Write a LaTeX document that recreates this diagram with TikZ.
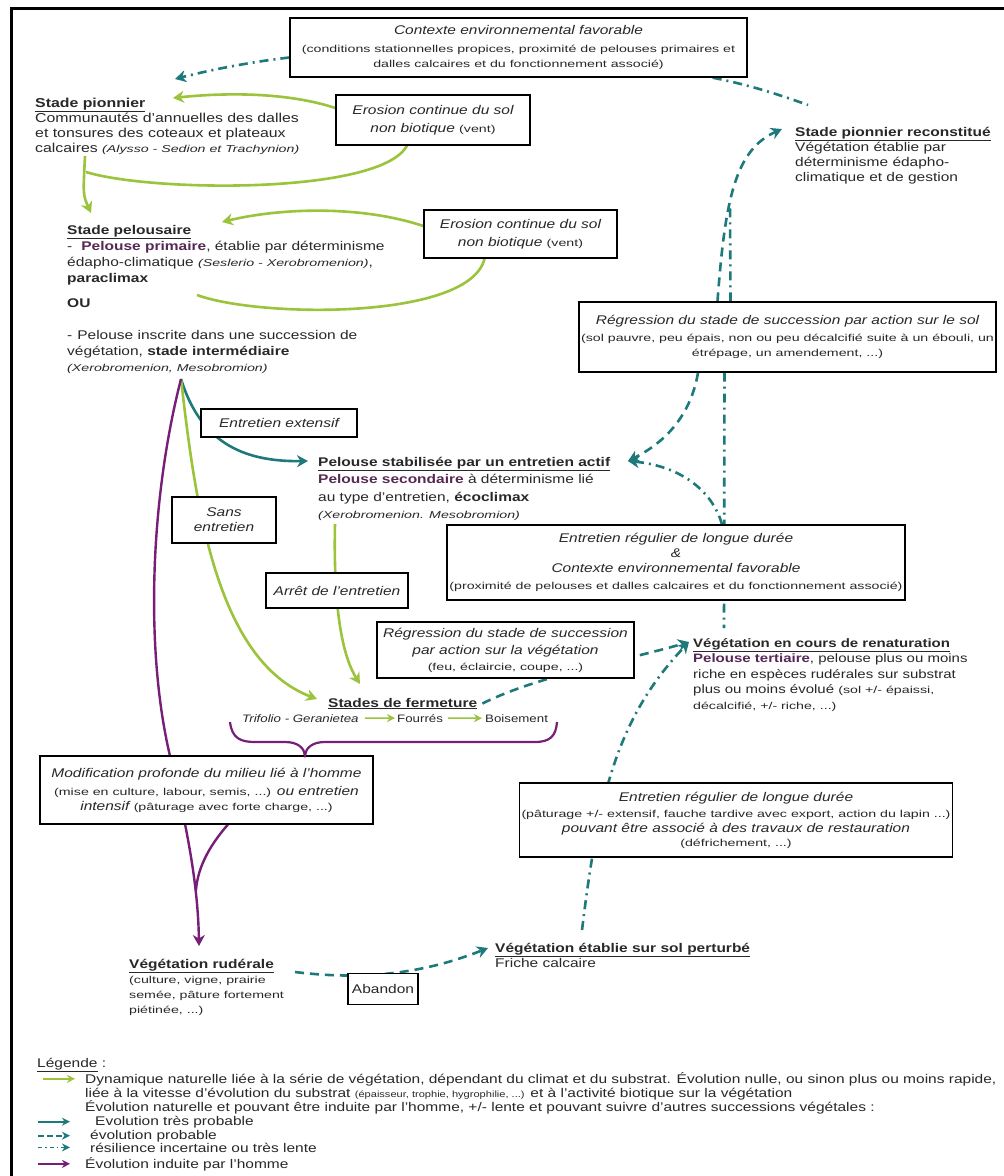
\documentclass[tikz,border=0pt]{standalone}
\usepackage{fontspec}
\setmainfont{Liberation Sans}[FakeStretch=1.23]
\newfontfamily\smallf{Liberation Sans}[FakeStretch=1.42]
\usetikzlibrary{arrows.meta}
\definecolor{grn}{RGB}{155,195,60}
\definecolor{tl}{RGB}{30,122,122}
\definecolor{pur}{RGB}{118,30,120}
\definecolor{txt}{RGB}{40,40,40}
\definecolor{plum}{RGB}{85,40,85}
\newcommand\sm[1]{{\smallf\upshape\fontsize{10}{12}\selectfont #1}}
\newcommand\smi[1]{{\smallf\itshape\fontsize{10}{12}\selectfont #1}}
\newcommand\fl{\rule{0pt}{10pt}}
\newcommand\ttl[1]{\underline{\textbf{#1}}}
\pgfdeclarelayer{bg}
\pgfsetlayers{bg,main}
\tikzset{
  >={Stealth[length=11pt,width=12pt,inset=3.5pt]},
  box/.style={draw=black, line width=1.4pt, fill=white, align=center, inner sep=2pt, text=txt, font=\itshape\fontsize{12.6}{15}\selectfont},
  free/.style={align=left, anchor=north west, inner sep=0pt, text=txt, font=\fontsize{12.6}{15}\selectfont},
  lone/.style={anchor=base west, inner sep=0pt, text=txt, font=\fontsize{12.6}{15}\selectfont},
  legt/.style={anchor=base west, inner sep=0pt, text=txt, font=\fontsize{12.6}{14}\selectfont},
  gline/.style={draw=grn, line width=2.6pt},
  tline/.style={draw=tl, line width=2.6pt},
  tdash/.style={draw=tl, line width=2.6pt, dash pattern=on 9pt off 6pt},
  tdd/.style={draw=tl, line width=2.6pt, dash pattern=on 9pt off 5pt on 2pt off 5pt},
  pline/.style={draw=pur, line width=2.4pt},
  small arrow/.style={line width=1.8pt, -{Stealth[length=8pt,width=8pt,inset=2.5pt]}},
}
\begin{document}
\begin{tikzpicture}[x=1pt,y=-1pt]
\useasboundingbox (0,0) rectangle (1004,1176);
\begin{pgfonlayer}{bg}
\fill[white] (0,0) rectangle (1004,1176);
\end{pgfonlayer}
\draw[line width=3pt] (1004,8) -- (11,8) -- (11,1176);

% ---------- boxes ----------
\node[box, minimum width=457pt, minimum height=59pt] (ctx) at (518.5,47.5)
  {Contexte environnemental favorable\\[3pt]
   \sm{(conditions stationnelles propices, proximité de pelouses primaires et}\\
   \sm{dalles calcaires et du fonctionnement associé)}};
\node[box, minimum width=194pt, minimum height=50pt] (ero1) at (433,120)
  {Erosion continue du sol\\[3pt] non biotique \sm{(vent)}};
\node[box, minimum width=193pt, minimum height=48pt] (ero2) at (520.5,234)
  {Erosion continue du sol\\[3pt] non biotique \sm{(vent)}};
\node[box, minimum width=409pt, minimum height=70pt] (regsol) at (787.5,337)
  {Régression du stade de succession par action sur le sol\\[2pt]
   \sm{(sol pauvre, peu épais, non ou peu décalcifié suite à un ébouli, un}\\
   \sm{étrépage, un amendement, ...)}};
\node[box, minimum width=156pt, minimum height=28pt] (entext) at (279,423) {Entretien extensif};
\node[box, minimum width=104pt, minimum height=46pt] (sansent) at (224,520) {Sans\\ entretien};
\node[box, minimum width=458pt, minimum height=75pt] (entreg) at (676,562.5)
  {Entretien régulier de longue durée\\ \&\\ Contexte environnemental favorable\\[2pt]
   \sm{(proximité de pelouses et dalles calcaires et du fonctionnement associé)}};
\node[box, minimum width=142pt, minimum height=35pt] (arret) at (337,590.5) {Arrêt de l'entretien};
\node[box, minimum width=257pt, minimum height=56pt] (regveg) at (505.5,650)
  {Régression du stade de succession\\[2pt] par action sur la végétation\\[1pt]
   \sm{(feu, éclaircie, coupe, ...)}};
\node[box, minimum width=333pt, minimum height=68pt] (modif) at (206.5,790)
  {Modification profonde du milieu lié à l'homme\\[3pt]
   \sm{(mise en culture, labour, semis, ...)} ou entretien\\
   intensif \sm{(pâturage avec forte charge, ...)}};
\node[box, minimum width=420pt, minimum height=74pt] (entreg2) at (736,820)
  {Entretien régulier de longue durée\\[1pt]
   \sm{(pâturage +/- extensif, fauche tardive avec export, action du lapin ...)}\\
   pouvant être associé à des travaux de restauration\\[-1pt]
   \sm{(défrichement, ...)}};
\node[box, minimum width=70pt, minimum height=31pt, font=\fontsize{12.6}{15}\selectfont] (aband) at (383,989) {Abandon};

% ---------- free texts ----------
\node[free, font=\fontsize{12.9}{15}\selectfont] (pion) at (35,97)
  {\fl\ttl{Stade pionnier}\\ Communautés d'annuelles des dalles\\ et tonsures des coteaux et plateaux\\
   calcaires \smi{(Alysso - Sedion et Trachynion)}};
\node[free] (pionrec) at (795,126)
  {\fl\ttl{Stade pionnier reconstitué}\\ Végétation établie par\\ déterminisme édapho-\\ climatique et de gestion};
\node[free, font=\fontsize{12.6}{16}\selectfont] (pelo) at (67,224)
  {\fl\ttl{Stade pelousaire}\\
   -\hspace{9pt}\textcolor{plum}{\textbf{Pelouse primaire}}, établie par déterminisme\\
   édapho-climatique \smi{(Seslerio - Xerobromenion)},\\
   \textbf{paraclimax}\\[9pt]
   \textbf{OU}\\[16pt]
   -\hspace{5pt}Pelouse inscrite dans une succession de\\
   végétation, \textbf{stade intermédiaire}\\
   \smi{(Xerobromenion, Mesobromion)}};
\node[free, font=\fontsize{12.6}{17.5}\selectfont] (stab) at (318,456)
  {\fl\ttl{Pelouse stabilisée par un entretien actif}\\
   \textcolor{plum}{\textbf{Pelouse secondaire}} à déterminisme lié\\
   au type d'entretien, \textbf{écoclimax}\\
   \smi{(Xerobromenion. Mesobromion)}};
\node[lone] (ferm) at (328,707) {\ttl{Stades de fermeture}};
\node[lone, font=\itshape\fontsize{10.8}{13}\selectfont] (tri) at (242,722) {Trifolio - Geranietea};
\node[lone, font=\fontsize{10.8}{13}\selectfont] (fou) at (397,722) {Fourrés};
\node[lone, font=\fontsize{10.8}{13}\selectfont] (bois) at (485,722) {Boisement};
\node[free, font=\fontsize{12.2}{15.5}\selectfont] (renat) at (693,637)
  {\fl\ttl{Végétation en cours de renaturation}\\
   \textcolor{plum}{\textbf{Pelouse tertiaire}}, pelouse plus ou moins\\
   riche en espèces rudérales sur substrat\\
   plus ou moins évolué \sm{(sol +/- épaissi,}\\
   \sm{décalcifié, +/- riche, ...)}};
\node[free] (rud) at (129,958)
  {\fl\ttl{Végétation rudérale}\\ \sm{(culture, vigne, prairie}\\ \sm{semée, pâture fortement}\\ \sm{piétinée, ...)}};
\node[free] (pert) at (495,942)
  {\fl\ttl{Végétation établie sur sol perturbé}\\ Friche calcaire};

% ---------- legend ----------
\node[legt] (leg0) at (37,1067) {\underline{Légende} :};
\node[legt] (leg1) at (85,1083) {Dynamique naturelle liée à la série de végétation, dépendant du climat et du substrat. Évolution nulle, ou sinon plus ou moins rapide,};
\node[legt] (leg2) at (85,1097) {liée à la vitesse d'évolution du substrat {\fontsize{9}{10}\selectfont(épaisseur, trophie, hygrophilie, ...)} et à l'activité biotique sur la végétation};
\node[legt] (leg3) at (85,1111) {Évolution naturelle et pouvant être induite par l'homme, +/- lente et pouvant suivre d'autres successions végétales :};
\node[legt] (leg4) at (95,1125) {Evolution très probable};
\node[legt] (leg5) at (90,1139) {évolution probable};
\node[legt] (leg6) at (90,1152) {résilience incertaine ou très lente};
\node[legt] (leg7) at (85,1168) {Évolution induite par l'homme};

\draw[small arrow, draw=grn] ([xshift=-42pt]leg1.west) -- ([xshift=-10pt]leg1.west);
\draw[small arrow, draw=tl] ([xshift=-57pt]leg4.west) -- ([xshift=-25pt]leg4.west);
\draw[small arrow, draw=tl, dash pattern=on 6pt off 3pt] ([xshift=-52pt]leg5.west) -- ([xshift=-20pt]leg5.west);
\draw[small arrow, draw=tl, dash pattern=on 4pt off 3pt on 1.5pt off 3pt] ([xshift=-52pt]leg6.west) -- ([xshift=-20pt]leg6.west);
\draw[small arrow, draw=pur] ([xshift=-47pt]leg7.west) -- ([xshift=-15pt]leg7.west);

% ---------- stades row arrows ----------
\draw[small arrow, line width=1.5pt, draw=grn] ([xshift=6pt]tri.east) -- ([xshift=-2pt]fou.west);
\draw[small arrow, line width=1.5pt, draw=grn] ([xshift=5pt]fou.east) -- ([xshift=-3pt]bois.west);

% ---------- named points ----------
\coordinate (o) at (181,379);
\coordinate (pionA) at (175,79);
\coordinate (pionB) at (173,98);
\coordinate (pionC) at (86,172);
\coordinate (pionD) at (85,156);
\coordinate (peloA) at (91,213);
\coordinate (peloB) at (222,222);
\coordinate (peloC) at (197,295);
\coordinate (recA) at (808,105);
\coordinate (recB) at (782,129);
\coordinate (recC) at (730,203);
\coordinate (stabA) at (308,461);
\coordinate (stabB) at (335,524);
\coordinate (stabC) at (628,461);
\coordinate (fermA) at (317,699);
\coordinate (fermB) at (360,684);
\coordinate (renA) at (689,642);
\coordinate (renB) at (724,628);
\coordinate (pm) at (170,756);
\coordinate (bt) at (305,755);
\coordinate (rudA) at (199,946);
\coordinate (rudB) at (295,972);
\coordinate (pertA) at (582,930);
\coordinate (pertB) at (488,948);

% ---------- brace ----------
\draw[pline, line width=2.2pt] (230,722) .. controls (232,738) and (240,742) .. (255,742) -- (285,742)
  .. controls (298,742) and (304,748) .. (bt) .. controls (306,748) and (312,742) .. (325,742)
  -- (535,742) .. controls (550,742) and (556,736) .. (557,722);

% ---------- connectors (behind boxes) ----------
\begin{pgfonlayer}{bg}
\draw[tdd, ->] ([yshift=-10pt]ctx.west) .. controls (250,62) and (210,70) .. (pionA);
\draw[tdd] ([xshift=-35pt]ctx.south east) .. controls (750,85) and (780,95) .. (recA);
\draw[gline, ->] ([yshift=12pt]ero1.west) .. controls (290,93) and (230,92) .. (pionB);
\draw[gline] ([xshift=-26pt]ero1.south) .. controls (380,195) and (150,192) .. (pionC);
\draw[gline, ->] (pionD) .. controls (83,195) .. (peloA);
\draw[gline, ->] ([yshift=8pt]ero2.west) .. controls (360,205) and (280,208) .. (peloB);
\draw[gline] ([xshift=-36pt]ero2.south) .. controls (470,320) and (260,318) .. (peloC);
\draw[tline, ->] (o) .. controls (200,440) and (240,462) .. (stabA);
\draw[gline, ->] (o) .. controls (195,500) and (215,660) .. (fermA);
\draw[pline, ->] (o) .. controls (150,500) and (145,650) .. (pm) .. controls (185,820) and (198,880) .. (rudA);
\draw[pline] (bt) .. controls (250,800) and (200,840) .. (196,890);
\draw[gline, ->] (stabB) .. controls (333,620) and (345,660) .. (fermB);
\draw[tdash, ->] ([xshift=5pt]ferm.east) .. controls (540,675) and (620,662) .. (renA);
\draw[tdd, ->] (pertA) .. controls (598,800) and (615,720) .. (renA);
\draw[tdd] ([xshift=-63pt]regsol.south) -- (renB);
\draw[tdash, ->] ([xshift=-89.5pt]regsol.south) .. controls (690,420) and (660,445) .. (stabC);
\draw[tdd, ->] ([xshift=46pt]entreg.north) .. controls (712,490) and (680,466) .. (stabC);
\draw[tdash, ->] ([xshift=-70pt]regsol.north) .. controls (725,200) and (735,150) .. (recB);
\draw[tdd] ([xshift=-57pt]regsol.north) -- (recC);
\draw[tdash, ->] (rudB) .. controls (360,980) and (420,975) .. (pertB);
\end{pgfonlayer}
\end{tikzpicture}
\end{document}
